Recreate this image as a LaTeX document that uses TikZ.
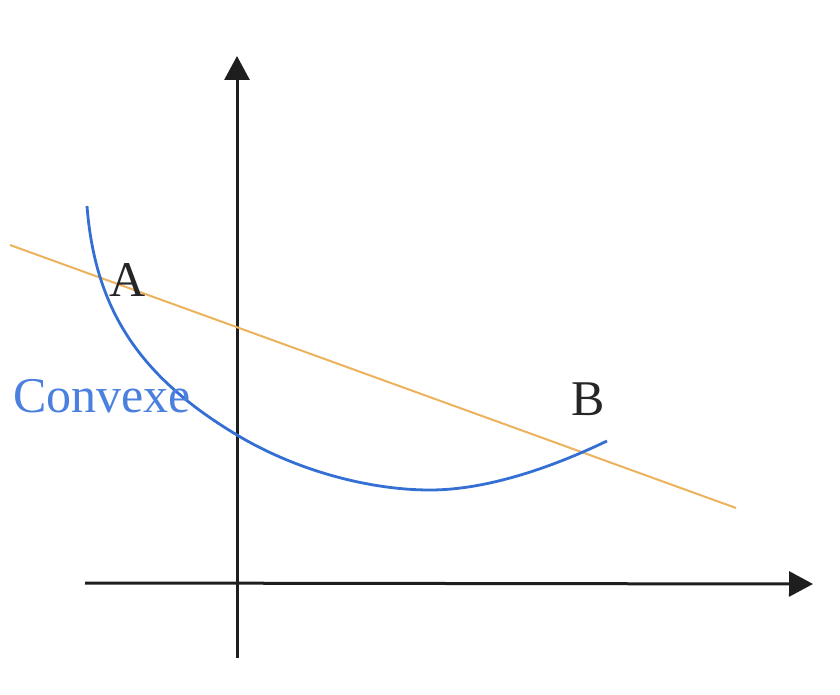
\documentclass[tikz,border=0pt]{standalone}
\usepackage{fontspec}
\setmainfont{Liberation Serif}
\usetikzlibrary{arrows.meta}
\definecolor{curveblue}{RGB}{52,112,212}
\definecolor{textblue}{RGB}{75,128,222}
\definecolor{lineorange}{RGB}{236,178,92}
\definecolor{axisgray}{RGB}{30,30,30}
\tikzset{
  axis/.style={draw=axisgray, line width=1.5pt, -{Triangle[length=12pt,width=12.5pt]}},
  convexcurve/.style={draw=curveblue, line width=1.4pt},
  secant/.style={draw=lineorange, line width=1pt},
  lbl/.style={font=\fontsize{25}{30}\selectfont, text=black!85, inner sep=0pt},
}
\begin{document}
\begin{tikzpicture}[x=0.5pt, y=-0.5pt]
\useasboundingbox (0,0) rectangle (840,695);
% axes
\coordinate (ybot) at (237,658);
\coordinate (ytop) at (237,56);
\coordinate (xleft) at (85,583);
\coordinate (xright) at (813,584);
\draw[axis] (ybot) -- (ytop);
\draw[axis] (xleft) -- (xright);
% secant line
\coordinate (s1) at (10,245);
\coordinate (s2) at (736,508);
\draw[secant] (s1) -- (s2);
% convex curve
\coordinate (c0) at (87,206);
\coordinate (c1) at (237,435);
\coordinate (c2) at (430,490);
\coordinate (c3) at (607,441);
\draw[convexcurve] (c0) .. controls (95,310) and (140,377) .. (c1)
  .. controls (297,471) and (370,490) .. (c2)
  .. controls (490,490) and (557,465) .. (c3);
% labels
\node[lbl] (A) at (128,280) {A};
\node[lbl] (B) at (588,399) {B};
\node[lbl, text=textblue, anchor=base west] (conv) at (13,412) {Convexe};
\end{tikzpicture}
\end{document}
